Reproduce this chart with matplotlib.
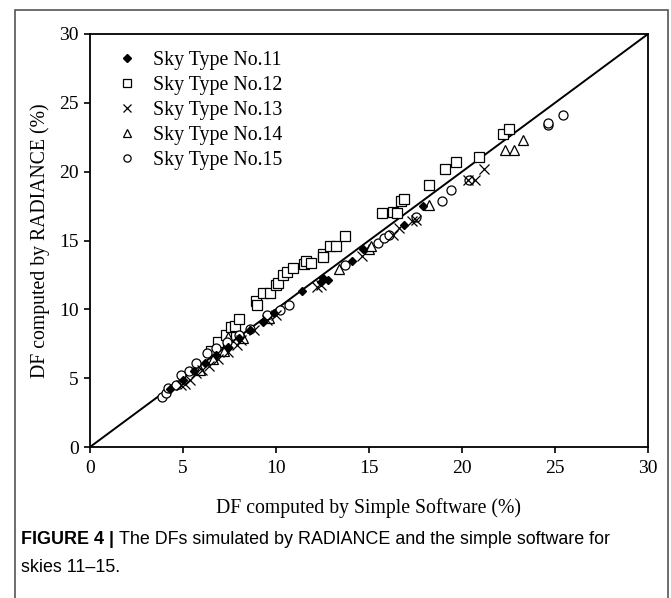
import matplotlib
matplotlib.use("Agg")
import matplotlib.pyplot as plt
from matplotlib.patches import Rectangle

# Sky Type No.11 (filled diamonds)
x11 = [4.3, 5.0, 5.6, 6.2, 6.8, 7.4, 8.0, 8.6, 9.3, 9.9, 11.4, 12.4, 12.5, 12.8, 14.1, 14.7, 16.9, 17.9]
y11 = [4.2, 4.9, 5.5, 6.1, 6.7, 7.3, 7.9, 8.5, 9.1, 9.7, 11.3, 12.0, 12.3, 12.1, 13.5, 14.4, 16.1, 17.5]

# Sky Type No.12 (open squares)
x12 = [6.5, 6.9, 7.3, 7.6, 7.8, 8.0, 8.9, 9.0, 9.3, 9.7, 10.0, 10.1, 10.4, 10.6, 10.9, 11.5, 11.6,
       11.9, 12.5, 12.5, 12.9, 13.2, 13.7, 15.7, 16.3, 16.5, 16.7, 16.9, 18.2, 19.1, 19.7, 20.9, 22.2, 22.5]
y12 = [7.0, 7.6, 8.1, 8.7, 8.8, 9.3, 10.6, 10.3, 11.2, 11.2, 11.8, 11.9, 12.5, 12.7, 13.0, 13.3, 13.5,
       13.4, 14.0, 13.8, 14.6, 14.6, 15.3, 17.0, 17.1, 17.0, 17.9, 18.0, 19.0, 20.2, 20.7, 21.1, 22.7, 23.1]

# Sky Type No.13 (crosses)
x13 = [4.9, 5.1, 5.4, 5.7, 6.0, 6.4, 6.9, 7.4, 7.9, 8.1, 8.8, 9.5, 10.0, 12.2, 12.4, 14.6,
       16.3, 16.6, 17.3, 17.5, 20.3, 20.7, 21.2]
y13 = [4.5, 4.6, 4.9, 5.35, 5.6, 5.9, 6.4, 6.9, 7.4, 7.75, 8.5, 9.2, 9.6, 11.6, 11.8, 13.9,
       15.4, 15.9, 16.4, 16.5, 19.4, 19.4, 20.2]

# Sky Type No.14 (open triangles)
x14 = [5.9, 6.6, 7.2, 7.4, 8.2, 9.6, 13.4, 15.0, 15.1, 18.2, 22.3, 22.8, 23.3]
y14 = [5.6, 6.4, 7.0, 8.0, 7.9, 9.4, 12.9, 14.4, 14.6, 17.6, 21.6, 21.6, 22.3]

# Sky Type No.15 (open circles)
x15 = [3.85, 4.1, 4.2, 4.6, 4.9, 5.3, 5.7, 6.3, 6.8, 7.35, 8.0, 8.6, 9.5, 10.2, 10.7, 13.7,
       15.5, 15.8, 16.1, 17.5, 18.9, 19.4, 20.4, 24.6, 24.65, 25.45]
y15 = [3.65, 3.9, 4.25, 4.5, 5.2, 5.5, 6.1, 6.8, 7.2, 7.65, 8.1, 8.6, 9.6, 9.95, 10.3, 13.2,
       14.8, 15.2, 15.4, 16.7, 17.9, 18.7, 19.4, 23.4, 23.5, 24.1]

ticks = [0, 5, 10, 15, 20, 25, 30]

plt.rcParams["font.family"] = ["Liberation Serif", "DejaVu Serif"]

fig = plt.figure(figsize=(6.71, 5.98), dpi=100)
ax = fig.add_axes([90 / 671, 1 - 447 / 598, 558 / 671, 413 / 598])

ax.plot([0, 30], [0, 30], color="black", lw=1.4, zorder=1)

ax.plot(x11, y11, "D", ms=4.5, color="black", label="Sky Type No.11", zorder=3)
ax.plot(x12, y12, "s", ms=6.5, mfc="white", mec="black", mew=0.9, label="Sky Type No.12", zorder=2)
ax.plot(x13, y13, "x", ms=7, color="black", mew=0.9, label="Sky Type No.13", zorder=3)
ax.plot(x14, y14, "^", ms=7, mfc="white", mec="black", mew=0.9, label="Sky Type No.14", zorder=2)
ax.plot(x15, y15, "o", ms=6.5, mfc="white", mec="black", mew=0.9, label="Sky Type No.15", zorder=2)

ax.set_xlim(0, 30)
ax.set_ylim(0, 30)
ax.set_xticks(ticks)
ax.set_yticks(ticks)
ax.tick_params(direction="out", length=4.5, width=1.2, labelsize=14, top=False, right=False)
ax.tick_params(axis="x", pad=5)
for s in ax.spines.values():
    s.set_linewidth(1.3)

ax.set_xlabel("DF computed by Simple Software (%)", fontsize=14.2, labelpad=15)
ax.set_ylabel("DF computed by RADIANCE (%)", fontsize=14.2, labelpad=7)

leg = ax.legend(loc="upper left", frameon=False, fontsize=14.3, markerscale=0.8,
                handlelength=0.8, handletextpad=0.9, labelspacing=0.31,
                borderaxespad=0, borderpad=0, bbox_to_anchor=(0.052, 0.96))

# outer frame and caption
fig.patches.append(Rectangle((15 / 671, -0.05), 653 / 671, 1.05 - 10 / 598,
                             transform=fig.transFigure, fill=False,
                             edgecolor="#555555", lw=1.2))
cap_size = 12.9
bold = fig.text(21 / 671, 1 - 540 / 598, "FIGURE 4 |", fontsize=cap_size, fontweight="bold",
                family="Liberation Sans", va="center", ha="left")
fig.canvas.draw()
bb = bold.get_window_extent().transformed(fig.transFigure.inverted())
fig.text(bb.x1 + 5 / 671, 1 - 540 / 598, "The DFs simulated by RADIANCE and the simple software for",
         fontsize=cap_size, family="Liberation Sans", va="center", ha="left")
fig.text(21 / 671, 1 - 567 / 598, "skies 11\u201315.", fontsize=cap_size,
         family="Liberation Sans", va="center", ha="left")

fig.savefig("out.png", dpi=100)
